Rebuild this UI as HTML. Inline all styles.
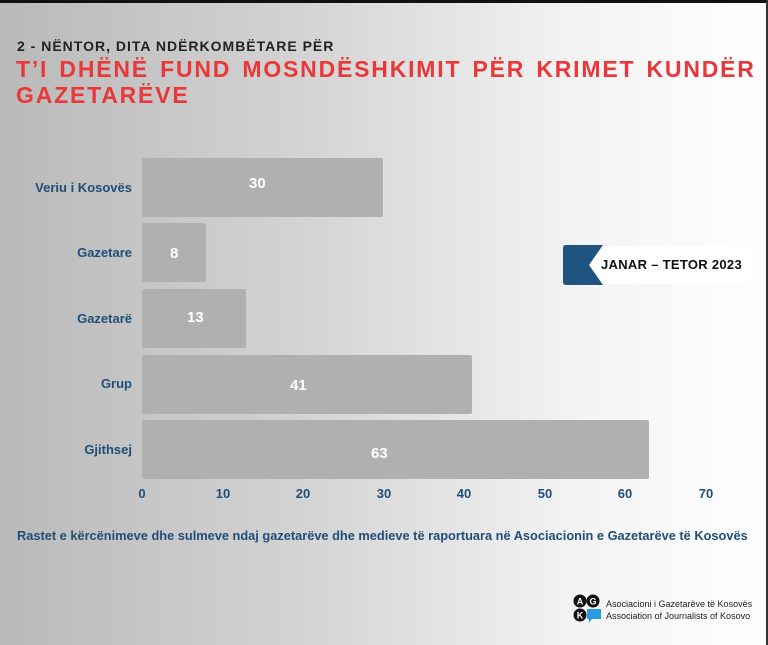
<!DOCTYPE html>
<html><head><meta charset="utf-8"><style>
body{margin:0;}
#c{position:relative;width:768px;height:645px;overflow:hidden;background:linear-gradient(90deg,#b9b9b9 0%,#d4d4d4 40%,#f3f3f3 75%,#fff 100%);font-family:"Liberation Sans",sans-serif;}
.t{position:absolute;white-space:nowrap;}
.bar{position:absolute;left:142px;height:59px;background:#b0b0b0;border-radius:2px;}
.v{position:absolute;color:#fff;font-weight:bold;font-size:15px;}
.cat{position:absolute;right:636px;color:#1f4e79;font-weight:bold;font-size:13px;text-align:right;}
.tick{position:absolute;top:486px;color:#1f4e79;font-weight:bold;font-size:13px;transform:translateX(-50%);}
</style></head><body><div id="c">
<div style="position:absolute;left:0;top:0;width:768px;height:3px;background:#111"></div>
<div style="position:absolute;right:0;top:0;width:2px;height:645px;background:#333"></div>
<div class="t" style="left:17px;top:38px;font-size:14px;font-weight:bold;letter-spacing:1px;color:#222">2 - NËNTOR, DITA NDËRKOMBËTARE PËR</div>
<div class="t" style="left:16px;top:56px;font-size:23px;font-weight:bold;letter-spacing:1.8px;word-spacing:3px;color:#e8383a;line-height:26px">T’I DHËNË FUND MOSNDËSHKIMIT PËR KRIMET KUNDËR<br>GAZETARËVE</div>

<div class="bar" style="top:158px;width:241px"></div><div class="v" style="left:249px;top:175px">30</div>
<div class="bar" style="top:223px;width:64px"></div><div class="v" style="left:170px;top:245px">8</div>
<div class="bar" style="top:289px;width:104px"></div><div class="v" style="left:187px;top:309px">13</div>
<div class="bar" style="top:355px;width:330px"></div><div class="v" style="left:290px;top:377px">41</div>
<div class="bar" style="top:420px;width:507px"></div><div class="v" style="left:371px;top:445px">63</div>

<div class="cat" style="top:180px">Veriu i Kosovës</div>
<div class="cat" style="top:245px">Gazetare</div>
<div class="cat" style="top:311px">Gazetarë</div>
<div class="cat" style="top:376px">Grup</div>
<div class="cat" style="top:442px">Gjithsej</div>

<div class="tick" style="left:142px">0</div>
<div class="tick" style="left:223px">10</div>
<div class="tick" style="left:303px">20</div>
<div class="tick" style="left:384px">30</div>
<div class="tick" style="left:464px">40</div>
<div class="tick" style="left:545px">50</div>
<div class="tick" style="left:625px">60</div>
<div class="tick" style="left:706px">70</div>

<div style="position:absolute;left:590px;top:246px;width:158px;height:38px;background:#fff"></div>
<svg style="position:absolute;left:563px;top:245px" width="42" height="40"><path d="M3 0H40L26 20L40 40H3Q0 40 0 37V3Q0 0 3 0Z" fill="#1f5480"/></svg>
<div class="t" style="left:601px;top:257px;font-size:13px;font-weight:bold;color:#111;letter-spacing:0.3px">JANAR – TETOR 2023</div>

<div class="t" style="left:17px;top:528px;font-size:12.8px;font-weight:bold;color:#1f4e79">Rastet e kërcënimeve dhe sulmeve ndaj gazetarëve dhe medieve të raportuara në Asociacionin e Gazetarëve të Kosovës</div>

<svg style="position:absolute;left:573px;top:594px" width="32" height="30">
<circle cx="7" cy="7" r="6.5" fill="#111"/><circle cx="20" cy="7" r="6.5" fill="#111"/><circle cx="7" cy="21" r="6.5" fill="#111"/>
<path d="M14 15h14v10h-9l-3 4v-4h-2z" fill="#2a9be0"/>
<text x="7" y="10.5" font-size="9" fill="#fff" text-anchor="middle" font-family="Liberation Sans" font-weight="bold">A</text>
<text x="20" y="10.5" font-size="9" fill="#fff" text-anchor="middle" font-family="Liberation Sans" font-weight="bold">G</text>
<text x="7" y="24.5" font-size="9" fill="#fff" text-anchor="middle" font-family="Liberation Sans" font-weight="bold">K</text>
</svg>
<div class="t" style="left:606px;top:598px;font-size:9px;color:#222;line-height:12px">Asociacioni i Gazetarëve të Kosovës<br>Association of Journalists of Kosovo</div>
</div></body></html>
